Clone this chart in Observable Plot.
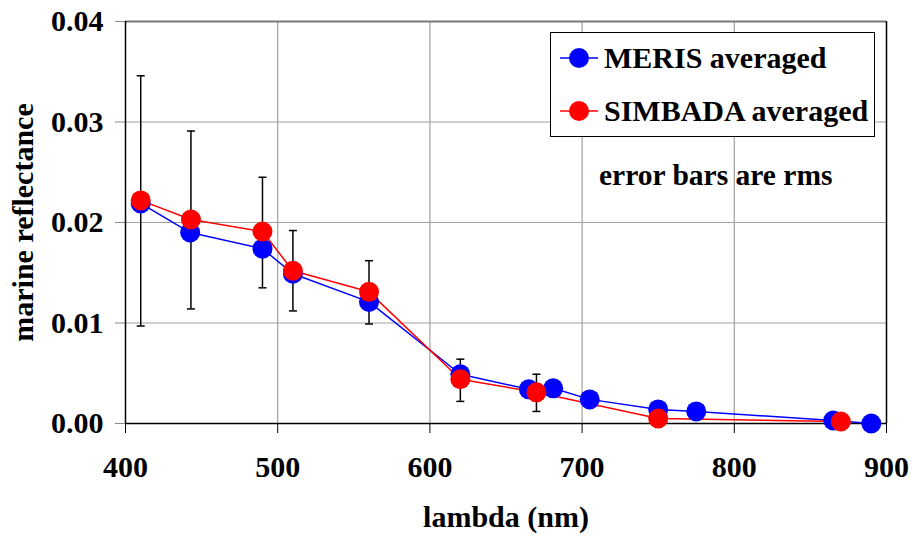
<!DOCTYPE html>
<html>
<head>
<meta charset="utf-8">
<script src="https://cdn.jsdelivr.net/npm/d3@7"></script>
<script src="https://cdn.jsdelivr.net/npm/@observablehq/plot@0.6"></script>
<style>
  body { margin: 0; background: #fff; }
  #wrap { position: relative; width: 912px; height: 541px; font-family: "Liberation Serif", serif; font-weight: bold; }
  #legend { position: absolute; left: 550px; top: 32px; width: 323px; height: 103px; border: 1px solid #000; background: #fff; }
  .row { position: absolute; left: 8px; height: 40px; display: flex; align-items: center; font-size: 30px; color: #000; white-space: nowrap; }
  .row svg { margin-right: 5px; }
  #note { position: absolute; left: 599px; top: 159px; font-size: 29.5px; color: #000; white-space: nowrap; }
</style>
</head>
<body>
<div id="wrap">
  <div id="chart"></div>
  <div id="legend">
    <div class="row" style="top:5px"><svg width="40" height="24"><line x1="1" x2="39" y1="12" y2="12" stroke="#0000ff" stroke-width="1.5"/><circle cx="20" cy="12" r="10" fill="#0000ff"/></svg>MERIS averaged</div>
    <div class="row" style="top:58px"><svg width="40" height="24"><line x1="1" x2="39" y1="12" y2="12" stroke="#ff0000" stroke-width="1.5"/><circle cx="20" cy="12" r="10" fill="#ff0000"/></svg>SIMBADA averaged</div>
  </div>
  <div id="note">error bars are rms</div>
</div>
<script>
// MERIS averaged
const merisLambda = [410, 442.5, 490, 510, 560, 620, 665, 681, 705, 750, 775, 865, 890];
const merisRefl   = [0.0219, 0.0190, 0.0174, 0.0149, 0.0121, 0.0049, 0.0034, 0.0035, 0.0024, 0.0014, 0.0012, 0.0003, 0.0000];
// SIMBADA averaged
const simLambda = [410, 443, 490, 510, 560, 620, 670, 750, 870];
const simRefl   = [0.0222, 0.0203, 0.0191, 0.0152, 0.0131, 0.0044, 0.0031, 0.0005, 0.0002];
// error bars (rms) on SIMBADA
const errLambda = [410, 443, 490, 510, 560, 620, 670, 750];
const errLow    = [0.0097, 0.0114, 0.0135, 0.0112, 0.0099, 0.0022, 0.0012, -0.0003];
const errHigh   = [0.0346, 0.0291, 0.0245, 0.0192, 0.0162, 0.0064, 0.0049, 0.0013];
// axes
const xTicks = [400, 500, 600, 700, 800, 900];
const yTicks = [0, 0.01, 0.02, 0.03, 0.04];

const meris = merisLambda.map((x, i) => ({x, y: merisRefl[i]}));
const sim = simLambda.map((x, i) => ({x, y: simRefl[i]}));
const err = errLambda.map((x, i) => ({x, lo: errLow[i], hi: errHigh[i]}));
const caps = err.flatMap(d => [{x: d.x, y: d.lo}, {x: d.x, y: d.hi}]);

const capSymbol = {
  draw(ctx, size) { const r = Math.sqrt(size / Math.PI); ctx.moveTo(-r, 0); ctx.lineTo(r, 0); }
};

const chart = Plot.plot({
  width: 912,
  height: 541,
  marginLeft: 125,
  marginRight: 26,
  marginTop: 21,
  marginBottom: 118,
  style: { fontFamily: "Liberation Serif, serif", fontWeight: "bold", fontSize: "30px", color: "#000", background: "#fff" },
  x: { domain: [400, 900] },
  y: { domain: [0, 0.04] },
  marks: [
    Plot.gridX(xTicks.slice(1, -1), { stroke: "#a0a0a0", strokeOpacity: 1, strokeWidth: 1.2 }),
    Plot.gridY(yTicks.slice(1, -1), { stroke: "#a0a0a0", strokeOpacity: 1, strokeWidth: 1.2 }),
    Plot.ruleY([0.04], { stroke: "#777", strokeWidth: 2 }),
    Plot.ruleX([900], { stroke: "#000", strokeWidth: 1.5 }),
    Plot.axisX(xTicks, { tickSize: 10, tickPadding: 22, stroke: "#000", fontSize: 30, fontWeight: "bold",
      label: "lambda (nm)", labelAnchor: "center", labelArrow: "none", labelOffset: 103 }),
    Plot.axisY(yTicks, { tickSize: 10, tickPadding: 12, stroke: "#888", tickFormat: d3.format(".2f"), fontSize: 30, fontWeight: "bold",
      label: "marine reflectance", labelAnchor: "center", labelArrow: "none", labelOffset: 114 }),
    Plot.ruleX([400], { stroke: "#000", strokeWidth: 1.5 }),
    Plot.ruleY([0], { stroke: "#000", strokeWidth: 1.5 }),
    Plot.line(meris, { x: "x", y: "y", stroke: "#0000ff", strokeWidth: 1.5 }),
    Plot.line(sim, { x: "x", y: "y", stroke: "#ff0000", strokeWidth: 1.5 }),
    Plot.ruleX(err, { x: "x", y1: "lo", y2: "hi", stroke: "#000", strokeWidth: 1.5 }),
    Plot.dot(caps, { x: "x", y: "y", symbol: capSymbol, r: 4, stroke: "#000", strokeWidth: 1.5 }),
    Plot.dot(meris, { x: "x", y: "y", r: 10, fill: "#0000ff" }),
    Plot.dot(sim, { x: "x", y: "y", r: 10, fill: "#ff0000" })
  ]
});
document.getElementById("chart").append(chart);
</script>
</body>
</html>
